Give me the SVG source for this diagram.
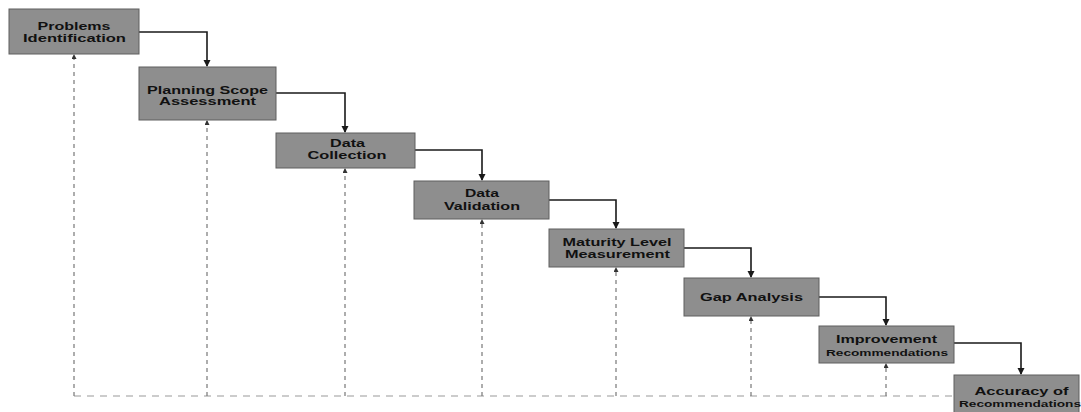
<svg xmlns="http://www.w3.org/2000/svg" width="1081" height="412" viewBox="0 0 1081 412">
<style>
.box{fill:#8e8e8e;stroke:#5e5e5e;stroke-width:1}
.t{font-family:"Liberation Sans",Arial,sans-serif;font-weight:bold;font-size:10.5px;fill:#111;text-anchor:middle}
.s{font-size:9px}
.flow{fill:none;stroke:#1a1a1a;stroke-width:1.6;marker-end:url(#ah)}
.fb{fill:none;stroke:#777;stroke-width:1.2;stroke-dasharray:4 4;marker-end:url(#ah2)}
.fh{fill:none;stroke:#9a9a9a;stroke-width:1.2;stroke-dasharray:7 6}
</style>
<defs>
<marker id="ah" markerWidth="8" markerHeight="8" refX="6" refY="3.5" orient="auto" markerUnits="userSpaceOnUse"><path d="M0,0 L7,3.5 L0,7 Z" fill="#1a1a1a"/></marker>
<marker id="ah2" markerWidth="6" markerHeight="6" refX="4" refY="2.5" orient="auto" markerUnits="userSpaceOnUse"><path d="M0,0 L5,2.5 L0,5 Z" fill="#333"/></marker>
</defs>
<rect width="1081" height="412" fill="#fff"/>
<g id="connectors">
<path class="fh" d="M74,396 H954"/>
<path class="fb" d="M74,396 V55"/>
<path class="fb" d="M207,396 V121"/>
<path class="fb" d="M345,396 V169"/>
<path class="fb" d="M482,396 V220"/>
<path class="fb" d="M616,396 V268"/>
<path class="fb" d="M751,396 V317"/>
<path class="fb" d="M886,396 V364"/>
<path class="flow" d="M139,32 H207 V66"/>
<path class="flow" d="M276,93 H345 V132"/>
<path class="flow" d="M415,150 H482 V180"/>
<path class="flow" d="M549,200 H616 V228"/>
<path class="flow" d="M684,248 H751 V277"/>
<path class="flow" d="M819,297 H886 V325"/>
<path class="flow" d="M954,343 H1021 V374"/>
</g>
<g id="n1"><rect class="box" x="9" y="9" width="130" height="45"/>
<text class="t" x="74" y="30" textLength="73" lengthAdjust="spacingAndGlyphs">Problems</text>
<text class="t" x="74.5" y="41.5" textLength="103" lengthAdjust="spacingAndGlyphs">Identification</text></g>
<g id="n2"><rect class="box" x="139" y="67" width="137" height="53"/>
<text class="t" x="207.5" y="94" textLength="121" lengthAdjust="spacingAndGlyphs">Planning Scope</text>
<text class="t" x="207.5" y="105" textLength="97" lengthAdjust="spacingAndGlyphs">Assessment</text></g>
<g id="n3"><rect class="box" x="276" y="133" width="139" height="35"/>
<text class="t" x="347.5" y="147" textLength="35" lengthAdjust="spacingAndGlyphs">Data</text>
<text class="t" x="347" y="158.5" textLength="79" lengthAdjust="spacingAndGlyphs">Collection</text></g>
<g id="n4"><rect class="box" x="414" y="181" width="135" height="38"/>
<text class="t" x="482" y="197" textLength="34" lengthAdjust="spacingAndGlyphs">Data</text>
<text class="t" x="482" y="209.5" textLength="76" lengthAdjust="spacingAndGlyphs">Validation</text></g>
<g id="n5"><rect class="box" x="549" y="229" width="135" height="38"/>
<text class="t" x="617" y="246" textLength="109" lengthAdjust="spacingAndGlyphs">Maturity Level</text>
<text class="t" x="617.5" y="258" textLength="105" lengthAdjust="spacingAndGlyphs">Measurement</text></g>
<g id="n6"><rect class="box" x="684" y="278" width="135" height="38"/>
<text class="t" x="751.5" y="301" textLength="103" lengthAdjust="spacingAndGlyphs">Gap Analysis</text></g>
<g id="n7"><rect class="box" x="819" y="326" width="135" height="37"/>
<text class="t" x="886.5" y="342.5" textLength="101" lengthAdjust="spacingAndGlyphs">Improvement</text>
<text class="t s" x="887" y="355.5" textLength="122" lengthAdjust="spacingAndGlyphs">Recommendations</text></g>
<g id="n8"><rect class="box" x="954" y="375" width="125" height="45"/>
<text class="t" x="1021.5" y="395" textLength="94" lengthAdjust="spacingAndGlyphs">Accuracy of</text>
<text class="t s" x="1020" y="407" textLength="122" lengthAdjust="spacingAndGlyphs">Recommendations</text></g>
</svg>
